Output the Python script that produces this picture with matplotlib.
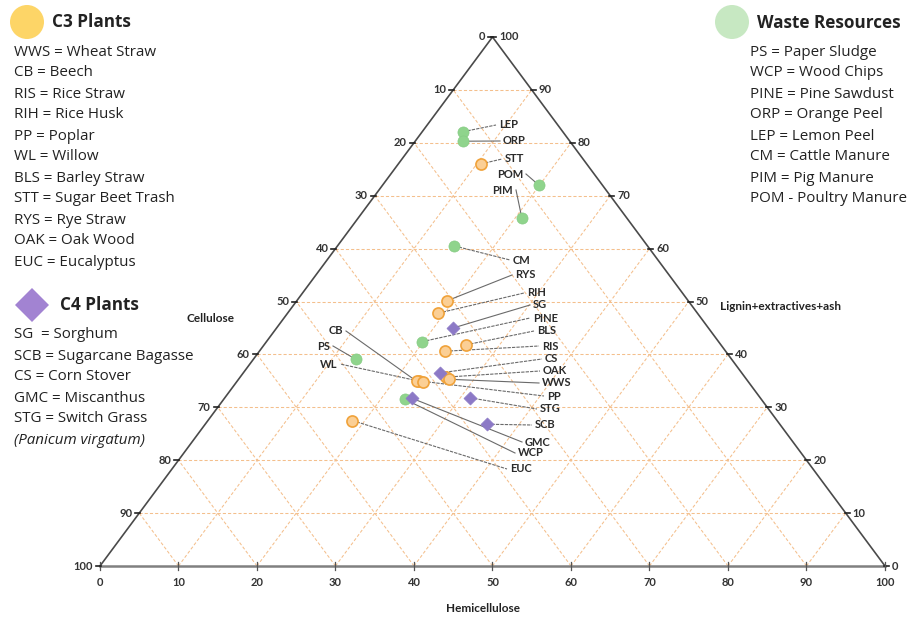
import matplotlib
matplotlib.use("Agg")
import matplotlib.pyplot as plt
from matplotlib.patches import Circle, Polygon

# ---- data (percent of dry matter) ----
codes = ["LEP", "ORP", "STT", "POM", "PIM", "CM", "RYS", "RIH", "SG", "PINE", "BLS", "RIS",
         "CS", "OAK", "WWS", "PP", "CB", "WL", "PS", "STG", "SCB", "GMC", "WCP", "EUC"]
group = ["W", "W", "C3", "W", "W", "W", "C3", "C3", "C4", "W", "C3", "C3",
         "C4", "C3", "C3", "C3", "C3", "C3", "W", "C4", "C4", "C4", "W", "C3"]
cellulose = [12.7, 13.6, 13.5, 8.1, 13.4, 24.6, 30.8, 33.0, 32.5, 37.8, 32.5, 35.7,
             38.4, 38.1, 37.9, 41.9, 42.2, 41.5, 47.9, 37.0, 37.3, 44.4, 45.4, 54.1]
hemicellulose = [5.2, 6.1, 10.5, 19.9, 20.9, 14.9, 19.1, 19.2, 22.5, 19.8, 25.7, 23.7,
                 25.1, 26.2, 26.8, 23.1, 22.9, 23.7, 13.0, 31.2, 35.9, 23.9, 23.1, 18.4]
lignin = [82.1, 80.3, 76.0, 72.0, 65.7, 60.5, 50.1, 47.8, 45.0, 42.4, 41.8, 40.6,
          36.5, 35.7, 35.3, 35.0, 34.9, 34.8, 39.1, 31.8, 26.8, 31.7, 31.5, 27.5]

c3_legend = ["WWS = Wheat Straw", "CB = Beech", "RIS = Rice Straw", "RIH = Rice Husk",
             "PP = Poplar", "WL = Willow", "BLS = Barley Straw", "STT = Sugar Beet Trash",
             "RYS = Rye Straw", "OAK = Oak Wood", "EUC = Eucalyptus"]
c4_legend = ["SG  = Sorghum", "SCB = Sugarcane Bagasse", "CS = Corn Stover",
             "GMC = Miscanthus", "STG = Switch Grass"]
waste_legend = ["PS = Paper Sludge", "WCP = Wood Chips", "PINE = Pine Sawdust",
                "ORP = Orange Peel", "LEP = Lemon Peel", "CM = Cattle Manure",
                "PIM = Pig Manure", "POM - Poultry Manure"]
ticks = [0, 10, 20, 30, 40, 50, 60, 70, 80, 90, 100]

# label anchors (figure pixels) and leader dash
label_pos = {
    "LEP": (499, 125, "left"), "ORP": (503, 141, "left"), "STT": (505, 159, "left"),
    "POM": (523, 174, "right"), "PIM": (513, 190, "right"), "CM": (513, 260, "left"),
    "RYS": (515, 275, "left"), "RIH": (527, 293, "left"), "SG": (533, 305, "left"),
    "PINE": (533, 318, "left"), "BLS": (537, 331, "left"), "RIS": (542, 346, "left"),
    "CS": (545, 359, "left"), "OAK": (543, 371, "left"), "WWS": (542, 383, "left"),
    "PP": (547, 396, "left"), "STG": (540, 409, "left"), "SCB": (535, 425, "left"),
    "GMC": (525, 442, "left"), "WCP": (518, 453, "left"), "EUC": (510, 469, "left"),
    "CB": (343, 331, "right"), "PS": (330, 346, "right"), "WL": (337, 364, "right"),
}
dashed = {"LEP", "STT", "CM", "RIH", "PINE", "BLS", "RIS", "CS", "OAK", "PP",
          "STG", "SCB", "EUC", "WL"}

# ---- triangle geometry (pixels) ----
X0, Y0, W, H = 100, 566, 785, 529


def proj(h, l):
    return X0 + (h + l / 2) / 100 * W, Y0 - l / 100 * H


fig = plt.figure(figsize=(9.12, 6.21), dpi=100)
ax = fig.add_axes([0, 0, 1, 1])
ax.set_xlim(0, 912); ax.set_ylim(621, 0); ax.axis("off")

grid_kw = dict(color="#f4bf8c", lw=0.75, ls=(0, (3, 2)), zorder=1)
for v in range(10, 100, 10):
    # constant lignin (horizontal)
    a, b = proj(0, v), proj(100 - v, v)
    ax.plot([a[0], b[0]], [a[1], b[1]], **grid_kw)
    # constant hemicellulose
    a, b = proj(v, 0), proj(v, 100 - v)
    ax.plot([a[0], b[0]], [a[1], b[1]], **grid_kw)
    # constant cellulose
    a, b = proj(100 - v, 0), proj(0, 100 - v)
    ax.plot([a[0], b[0]], [a[1], b[1]], **grid_kw)

bl, br, top = proj(0, 0), proj(100, 0), proj(0, 100)
ax.plot([bl[0], top[0], br[0]], [bl[1], top[1], br[1]], color="#4a4a4a", lw=1.2, zorder=2)
ax.plot([bl[0], br[0]], [bl[1], br[1]], color="#808080", lw=1.8, zorder=2)

tfont = dict(fontsize=8, fontweight="bold", color="#333333", family="Lato")
for t in ticks:
    # bottom: hemicellulose
    x, y = proj(t, 0)
    ax.plot([x, x], [y - 4, y + 4], color="#555555", lw=0.9, zorder=3)
    ax.text(x, y + 17, str(t), ha="center", va="center", **tfont)
    # left: cellulose (0 at apex)
    x, y = proj(0, 100 - t)
    ax.plot([x - 4, x + 1], [y, y], color="#222222", lw=1.2, zorder=3)
    ax.text(x - 7, y, str(t), ha="right", va="center", **tfont)
    # right: lignin
    x, y = proj(100 - t, t)
    ax.plot([x - 1, x + 4], [y, y], color="#222222", lw=1.2, zorder=3)
    ax.text(x + 7, y, str(t), ha="left", va="center", **tfont)

afont = dict(fontsize=8.5, fontweight="bold", color="#222222", family="Lato")
ax.text(211, 318, "Cellulose", ha="center", va="center", **afont)
ax.text(720, 306, "Lignin+extractives+ash", ha="left", va="center", **afont)
ax.text(483, 609, "Hemicellulose", ha="center", va="center", **afont)

# leaders + labels
for i, code in enumerate(codes):
    px, py = proj(hemicellulose[i], lignin[i])
    lx, ly, ha = label_pos[code]
    ex = lx - 3 if ha == "left" else lx + 3
    ls = (0, (3, 1)) if code in dashed else "-"
    ax.plot([px, ex], [py, ly], color="#6a6a6a", lw=0.8, ls=ls, zorder=4)
    ax.text(lx, ly, code, ha=ha, va="center", fontsize=8, fontweight="bold",
            color="#2b2b2b", family="Lato", zorder=6)

style = {
    "C3": dict(marker="o", s=64, c="#fbcf95", edgecolors="#f0a23a", linewidths=1.2),
    "C4": dict(marker="D", s=44, c="#8c79c6", edgecolors="#8c79c6", linewidths=0.5),
    "W": dict(marker="o", s=64, c="#8fd48c", edgecolors="#86cc84", linewidths=0.5),
}
for g in ["W", "C3", "C4"]:
    idx = [i for i, gg in enumerate(group) if gg == g]
    pts = [proj(hemicellulose[i], lignin[i]) for i in idx]
    ax.scatter([p[0] for p in pts], [p[1] for p in pts], zorder=5, **style[g])

# legends
hfont = dict(fontsize=12.3, fontweight="bold", color="#222222", family="Open Sans")
lfont = dict(fontsize=10.9, color="#222222", family="Open Sans")
ax.add_patch(Circle((27, 22), 17, fc="#fdd567", ec="none"))
ax.text(52, 22, "C3 Plants", ha="left", va="center", **hfont)
for k, s in enumerate(c3_legend):
    ax.text(14, 52 + 21 * k, s, ha="left", va="center", **lfont)

ax.add_patch(Polygon([(32, 288), (49, 305), (32, 322), (15, 305)], closed=True,
                     fc="#a283d2", ec="none"))
ax.text(60, 305, "C4 Plants", ha="left", va="center", **hfont)
for k, s in enumerate(c4_legend):
    ax.text(14, 335 + 21 * k, s, ha="left", va="center", **lfont)
ax.text(14, 440, "(Panicum virgatum)", ha="left", va="center", style="italic", **lfont)

ax.add_patch(Circle((732, 22), 17, fc="#c7e8c2", ec="none"))
ax.text(757, 23, "Waste Resources", ha="left", va="center", **hfont)
for k, s in enumerate(waste_legend):
    ax.text(750, 52 + 21 * k, s, ha="left", va="center", **lfont)

fig.savefig("out.png", dpi=100)
